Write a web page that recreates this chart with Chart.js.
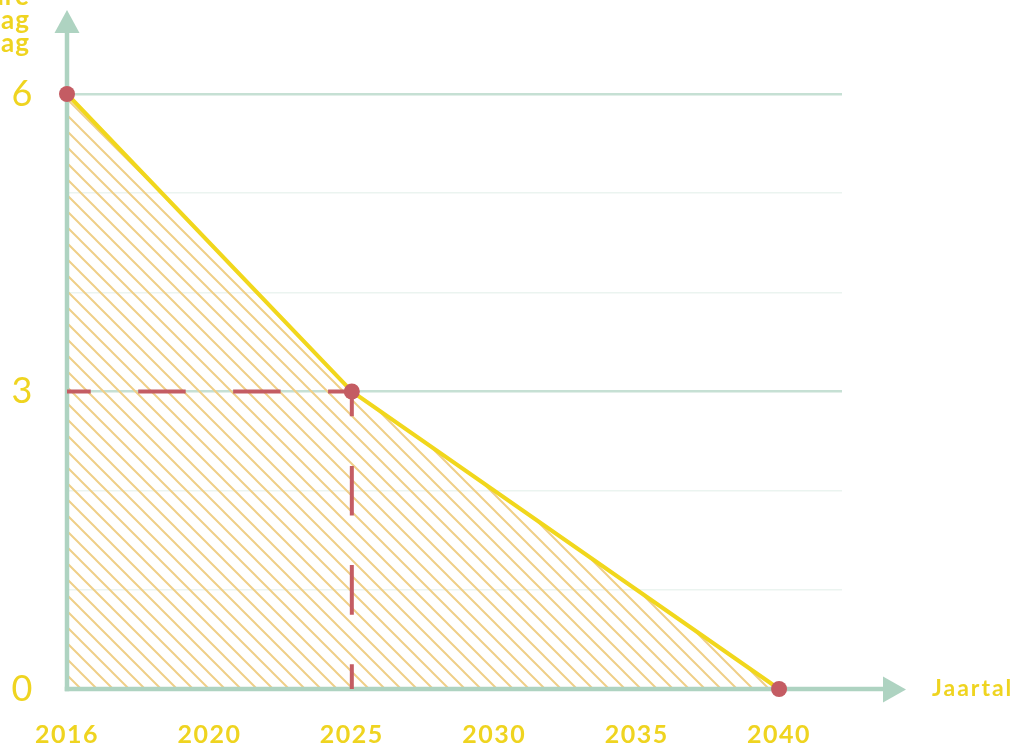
<!DOCTYPE html>
<html><head><meta charset="utf-8">
<script src="https://cdn.jsdelivr.net/npm/chart.js@4/dist/chart.umd.min.js"></script>
<style>html,body{margin:0;padding:0;background:#fff;overflow:hidden}#wrap{width:1015px;height:746px;position:relative}</style>
</head><body><div id="wrap"><canvas id="c" width="1015" height="746"></canvas></div>
<script>
// ---- data ----
const categories = ['2016','2020','2025','2030','2035','2040'];
const pointYears = ['2016','2025','2040'];
const pointValues = [6, 3, 0];
const guideYear = '2025';
const guideValue = 3;
const yTickLabels = [0, 3, 6];
const xTitle = 'Jaartal';
const yTitleLines = ['Toelaatbare', 'uitstoot per dag', 'in kg per dag'];

// ---- styles ----
const YELLOW = '#f1d71c';
const TEXT_YELLOW = '#efd420';
const RED = '#c45c63';
const AXIS = '#aed3c1';
const GRID_MAJOR = '#c6e0d4';
const GRID_MINOR = '#ebf4f0';
const HATCH = '#efcf88';

function makeHatch() {
  const s = 16;
  const c = document.createElement('canvas');
  c.width = s; c.height = s;
  const g = c.getContext('2d');
  g.strokeStyle = HATCH;
  g.lineWidth = 2;
  g.beginPath();
  g.moveTo(-4, -4); g.lineTo(s + 4, s + 4);
  g.moveTo(s - 4, -4); g.lineTo(s + 4, 4);
  g.moveTo(-4, s - 4); g.lineTo(4, s + 4);
  g.stroke();
  return g.createPattern(c, 'repeat');
}

const xi = y => categories.indexOf(y);
const mainData = pointYears.map((y, i) => ({x: xi(y), y: pointValues[i]}));
const gx = xi(guideYear);
const hGuide = [{x: gx, y: guideValue}, {x: 0, y: guideValue}];
const vGuide = [{x: gx, y: guideValue}, {x: gx, y: 0}];

function dashLen(ctx) {
  const ch = ctx.chart;
  const ds = ch.data.datasets[ctx.datasetIndex];
  const sx = ch.scales.x, sy = ch.scales.y;
  if (!sx || !sy || !ds) return 48;
  const a = ds.data[0], b = ds.data[1];
  const dx = sx.getPixelForValue(a.x) - sx.getPixelForValue(b.x);
  const dy = sy.getPixelForValue(a.y) - sy.getPixelForValue(b.y);
  const L = Math.hypot(dx, dy);
  return (isFinite(L) && L > 0) ? L / 6 : 48;
}

const axesPlugin = {
  id: 'axesArrows',
  beforeDraw(chart) { chart.ctx.letterSpacing = '1.5px'; },
  beforeDatasetsDraw(chart) {
    const {ctx, chartArea, scales} = chart;
    const x0 = scales.x.getPixelForValue(0);
    const y0 = scales.y.getPixelForValue(0);
    ctx.save();
    ctx.strokeStyle = AXIS; ctx.fillStyle = AXIS; ctx.lineWidth = 4.5;
    // y axis
    ctx.beginPath();
    ctx.moveTo(x0, y0 + 2.25); ctx.lineTo(x0, chartArea.top - 62);
    ctx.stroke();
    ctx.beginPath();
    ctx.moveTo(x0, chartArea.top - 84);
    ctx.lineTo(x0 + 12.5, chartArea.top - 61);
    ctx.lineTo(x0 - 12.5, chartArea.top - 61);
    ctx.closePath(); ctx.fill();
    // x axis
    ctx.beginPath();
    ctx.moveTo(x0 - 2.25, y0); ctx.lineTo(chartArea.right + 42, y0);
    ctx.stroke();
    ctx.beginPath();
    ctx.moveTo(chartArea.right + 64, y0 + 0.5);
    ctx.lineTo(chartArea.right + 41, y0 - 12.5);
    ctx.lineTo(chartArea.right + 41, y0 + 13.5);
    ctx.closePath(); ctx.fill();
    ctx.restore();
  },
  afterDraw(chart) {
    const {ctx, chartArea, scales} = chart;
    const y0 = scales.y.getPixelForValue(0);
    ctx.save();
    ctx.letterSpacing = '2px';
    ctx.fillStyle = TEXT_YELLOW;
    ctx.font = 'bold 23px Lato';
    ctx.textAlign = 'left';
    ctx.textBaseline = 'middle';
    ctx.fillText(xTitle, chartArea.right + 90, y0);
    ctx.font = 'bold 26px Lato';
    ctx.letterSpacing = '1px';
    ctx.textAlign = 'right';
    ctx.textBaseline = 'alphabetic';
    yTitleLines.forEach((t, i) => ctx.fillText(t, 30, 5 + i * 23.5));
    ctx.restore();
    ctx.letterSpacing = '0px';
  }
};

const chart = new Chart(document.getElementById('c'), {
  type: 'line',
  data: {
    datasets: [
      {
        data: mainData,
        borderColor: YELLOW,
        borderWidth: 4,
        backgroundColor: makeHatch(),
        fill: 'origin',
        tension: 0,
        pointRadius: 8,
        pointHoverRadius: 8,
        pointBackgroundColor: RED,
        pointBorderWidth: 0,
        clip: false,
        order: 0
      },
      {
        data: hGuide,
        borderColor: RED,
        borderWidth: 4,
        borderCapStyle: 'butt',
        borderDash: ctx => { const d = dashLen(ctx); return [d, d]; },
        borderDashOffset: ctx => dashLen(ctx) / 2,
        pointRadius: 0,
        fill: false,
        clip: false,
        order: 1
      },
      {
        data: vGuide,
        borderColor: RED,
        borderWidth: 4,
        borderCapStyle: 'butt',
        borderDash: ctx => { const d = dashLen(ctx); return [d, d]; },
        borderDashOffset: ctx => dashLen(ctx) / 2,
        pointRadius: 0,
        fill: false,
        clip: false,
        order: 1
      }
    ]
  },
  options: {
    responsive: false,
    animation: false,
    layout: {padding: {top: 94, right: 173, left: 0, bottom: 0}},
    plugins: {
      legend: {display: false},
      tooltip: {enabled: false},
      filler: {drawTime: 'beforeDatasetsDraw'}
    },
    scales: {
      x: {
        type: 'linear',
        min: 0,
        max: 5.442,
        grid: {display: false},
        border: {display: false},
        afterBuildTicks: s => { s.ticks = categories.map((c, i) => ({value: i})); },
        afterFit: s => { s.height = 57; },
        ticks: {
          autoSkip: false,
          maxRotation: 0,
          padding: 23,
          color: TEXT_YELLOW,
          font: {family: 'Lato', size: 25, weight: 'bold'},
          callback: v => categories[v] !== undefined ? categories[v] : ''
        }
      },
      y: {
        min: 0,
        max: 6,
        grid: {
          drawTicks: false,
          color: c => (c.tick && c.tick.value % 3 === 0) ? GRID_MAJOR : GRID_MINOR,
          lineWidth: c => (c.tick && c.tick.value % 3 === 0) ? 2.5 : 1.5
        },
        border: {display: false},
        afterFit: s => { s.width = 67; },
        ticks: {
          stepSize: 1,
          padding: 33,
          color: TEXT_YELLOW,
          font: {family: 'Lato', size: 36, weight: '400'},
          callback: v => yTickLabels.includes(v) ? String(v) : ''
        }
      }
    }
  },
  plugins: [axesPlugin]
});
</script>
</body></html>
